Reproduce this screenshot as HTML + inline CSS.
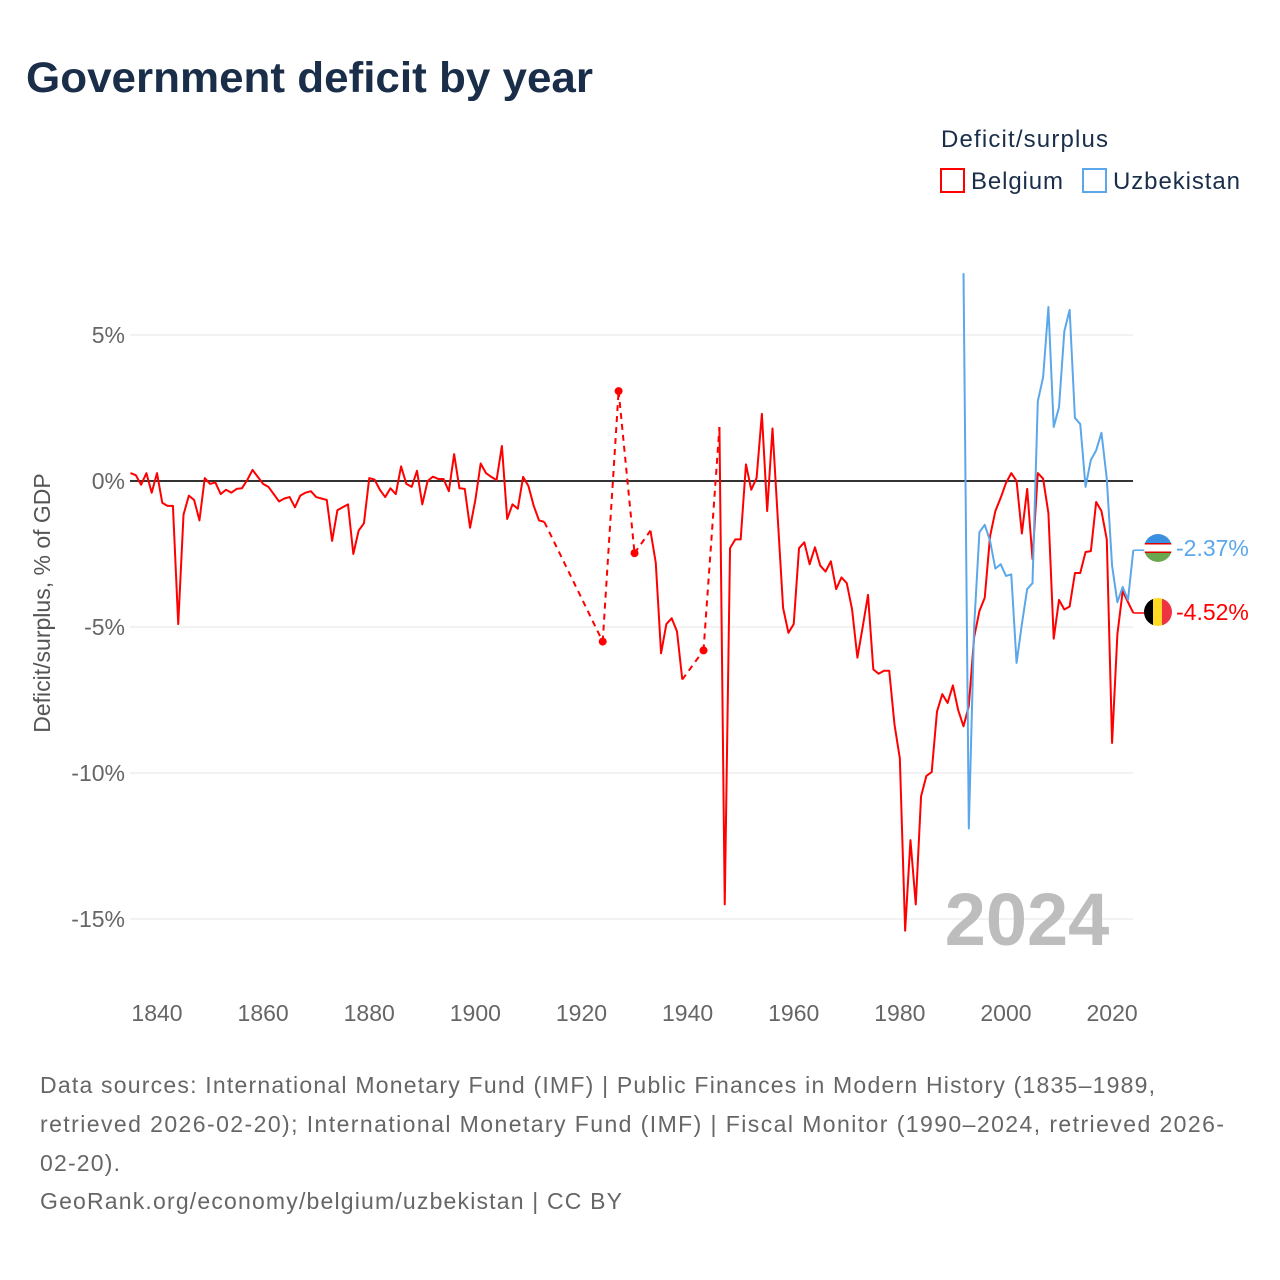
<!DOCTYPE html>
<html><head><meta charset="utf-8">
<style>
body{margin:0;background:#fff;font-family:"Liberation Sans","DejaVu Sans",sans-serif;}
#wrap{position:relative;width:1280px;height:1280px;overflow:hidden;}
svg text{font-family:"Liberation Sans","DejaVu Sans",sans-serif;}
</style></head>
<body>
<div id="wrap">
<svg id="chart" width="1280" height="1280">
<text x="26" y="92" font-size="43" font-weight="bold" fill="#1a2e4a" textLength="567" lengthAdjust="spacingAndGlyphs">Government deficit by year</text>
<text x="941" y="147" font-size="24" fill="#1a2e4a" textLength="167">Deficit/surplus</text>
<g>
<rect x="941" y="169" width="23" height="23" fill="none" stroke="#ff0000" stroke-width="2"/>
<text x="971" y="189" font-size="24" fill="#1a2e4a" textLength="92">Belgium</text></g>
<g>
<rect x="1083" y="169" width="23" height="23" fill="none" stroke="#5ba7ea" stroke-width="2"/>
<text x="1113" y="189" font-size="24" fill="#1a2e4a" textLength="127">Uzbekistan</text></g>
<text transform="translate(50,603) rotate(-90)" text-anchor="middle" font-size="23" fill="#555">Deficit/surplus, % of GDP</text>
<g id="grid"></g><g id="xt"></g>
<text x="1027" y="945" text-anchor="middle" font-size="74" font-weight="bold" fill="#bdbdbd">2024</text>
<g id="series"></g>
<g>
<clipPath id="cu"><circle cx="1158" cy="548" r="14"/></clipPath>
<g clip-path="url(#cu)"><rect x="1144" y="534" width="28" height="9" fill="#3b8fe0"/><rect x="1144" y="543" width="28" height="1.5" fill="#d00"/><rect x="1144" y="544.5" width="28" height="7" fill="#fff"/><rect x="1144" y="551.5" width="28" height="1.5" fill="#d00"/><rect x="1144" y="553" width="28" height="9" fill="#6aa84f"/></g></g>
<g>
<clipPath id="cb"><circle cx="1158" cy="612" r="14"/></clipPath>
<g clip-path="url(#cb)"><rect x="1144" y="598" width="10" height="28" fill="#000"/><rect x="1153" y="598" width="10" height="28" fill="#fdda24"/><rect x="1162" y="598" width="10" height="28" fill="#ef3340"/></g></g>
<text x="1176" y="556" font-size="23" fill="#5ba7ea">-2.37%</text>
<text x="1176" y="620" font-size="23" fill="#ff0000">-4.52%</text>
<g font-size="23" fill="#666">
<text x="40" y="1093" textLength="1115">Data sources: International Monetary Fund (IMF) | Public Finances in Modern History (1835–1989,</text>
<text x="40" y="1132" textLength="1184">retrieved 2026-02-20); International Monetary Fund (IMF) | Fiscal Monitor (1990–2024, retrieved 2026-</text>
<text x="40" y="1171" textLength="80">02-20).</text>
<text x="40" y="1209" textLength="582">GeoRank.org/economy/belgium/uzbekistan | CC BY</text>
</g>
</svg></div>
<script>
const yTicks=[5,0,-5,-10,-15];
const yTickLabels=["5%","0%","-5%","-10%","-15%"];
const xTicks=[1840,1860,1880,1900,1920,1940,1960,1980,2000,2020];
const belgiumStart=1835;
const belgium=[0.27,0.2,-0.13,0.27,-0.4,0.27,-0.75,-0.85,-0.85,-4.9,-1.15,-0.5,-0.65,-1.35,0.1,-0.1,-0.05,-0.45,-0.3,-0.4,-0.27,-0.25,0.03,0.38,0.14,-0.1,-0.2,-0.45,-0.7,-0.6,-0.55,-0.9,-0.5,-0.4,-0.35,-0.55,-0.6,-0.65,-2.05,-1.0,-0.9,-0.8,-2.5,-1.7,-1.45,0.1,0.05,-0.3,-0.55,-0.25,-0.45,0.5,-0.1,-0.2,0.35,-0.8,0,0.15,0.07,0.07,-0.35,0.92,-0.25,-0.27,-1.6,-0.65,0.6,0.27,0.14,0.03,1.2,-1.3,-0.8,-0.95,0.14,-0.17,-0.85,-1.35,-1.4,
null,null,null,null,null,null,null,null,null,null,-5.5,null,null,3.08,null,null,-2.47,null,null,-1.7,-2.8,-5.9,-4.9,-4.7,-5.15,-6.8,null,null,null,-5.8,null,null,1.85,-14.5,-2.3,-2.0,-2.0,0.57,-0.3,0.1,2.3,-1.03,1.8,-1.3,-4.35,-5.2,-4.9,-2.3,-2.1,-2.85,-2.27,-2.9,-3.1,-2.75,-3.7,-3.3,-3.5,-4.4,-6.05,-5.0,-3.9,-6.45,-6.6,-6.5,-6.5,-8.35,-9.5,-15.4,-12.3,-14.5,-10.8,-10.1,-9.97,-7.9,-7.3,-7.6,-7.0,-7.85,-8.4,-7.7,-5.35,-4.45,-4.0,-1.9,-1.03,-0.58,-0.07,0.27,0,-1.8,-0.27,-2.67,0.27,0.08,-1.1,-5.4,-4.07,-4.4,-4.3,-3.15,-3.15,-2.43,-2.4,-0.72,-1.03,-2.0,-8.97,-5.25,-3.77,-4.15,-4.52];
const uzbekStart=1992;
const uzbekistan=[7.12,-11.9,-5.0,-1.75,-1.5,-2.05,-3.0,-2.85,-3.25,-3.2,-6.23,-4.9,-3.7,-3.5,2.73,3.55,5.96,1.85,2.53,5.13,5.86,2.16,1.95,-0.2,0.72,1.05,1.65,0.08,-2.9,-4.15,-3.63,-4.07,-2.37];
const NS='http://www.w3.org/2000/svg';
const X=y=>157+(y-1840)*5.306, Y=v=>481-v*29.2;
function mk(t,a,p){const e=document.createElementNS(NS,t);for(const k in a)e.setAttribute(k,a[k]);p.appendChild(e);return e;}
const grid=document.getElementById('grid'), xt=document.getElementById('xt'), ser=document.getElementById('series');
yTicks.forEach((v,i)=>{
 if(v!==0){const l=mk('line',{x1:130,x2:1133,y1:Y(v),y2:Y(v),stroke:'#e6e6e6','stroke-width':1},grid);
 
 }
 const t=mk('text',{x:125,y:Y(v)+8,'text-anchor':'end','font-size':23,fill:'#666'},grid);t.textContent=yTickLabels[i];
 
 
});
const z=mk('line',{x1:130,x2:1133,y1:Y(0),y2:Y(0),stroke:'#333','stroke-width':2},grid);


xTicks.forEach(yr=>{const t=mk('text',{x:X(yr),y:1021,'text-anchor':'middle','font-size':23,fill:'#666'},xt);t.textContent=yr;
 
 });
function draw(vals,start,color,name){
 const g=mk('g',{},ser);
 
 
 const pts=[];vals.forEach((v,i)=>{if(v!==null)pts.push([start+i,v]);});
 let solid='',dash='';
 for(let i=0;i<pts.length;i++){const [yr,v]=pts[i];
  if(i===0||yr-pts[i-1][0]>1){solid+=`M${X(yr)},${Y(v)}`;if(i>0)dash+=`M${X(pts[i-1][0])},${Y(pts[i-1][1])}L${X(yr)},${Y(v)}`;}
  else solid+=`L${X(yr)},${Y(v)}`;
  const iso=(i===0||yr-pts[i-1][0]>1)&&(i===pts.length-1||pts[i+1][0]-yr>1);
  if(iso){const c=mk('circle',{cx:X(yr),cy:Y(v),r:4,fill:color},g);
   
   }
 }
 const d=mk('path',{d:dash,fill:'none',stroke:color,'stroke-width':2,'stroke-dasharray':'6,5'},g);
 
 
 const s=mk('path',{d:solid,fill:'none',stroke:color,'stroke-width':2,'stroke-linejoin':'round'},g);
 
 
 const last=pts[pts.length-1];
 const c=mk('line',{x1:X(last[0]),y1:Y(last[1]),x2:1146,y2:Y(last[1]),stroke:color,'stroke-width':1.5},g);
 
 
}
draw(belgium,belgiumStart,'#ff0000','belgium');
draw(uzbekistan,uzbekStart,'#5ba7ea','uzbekistan');
</script>
</body></html>
